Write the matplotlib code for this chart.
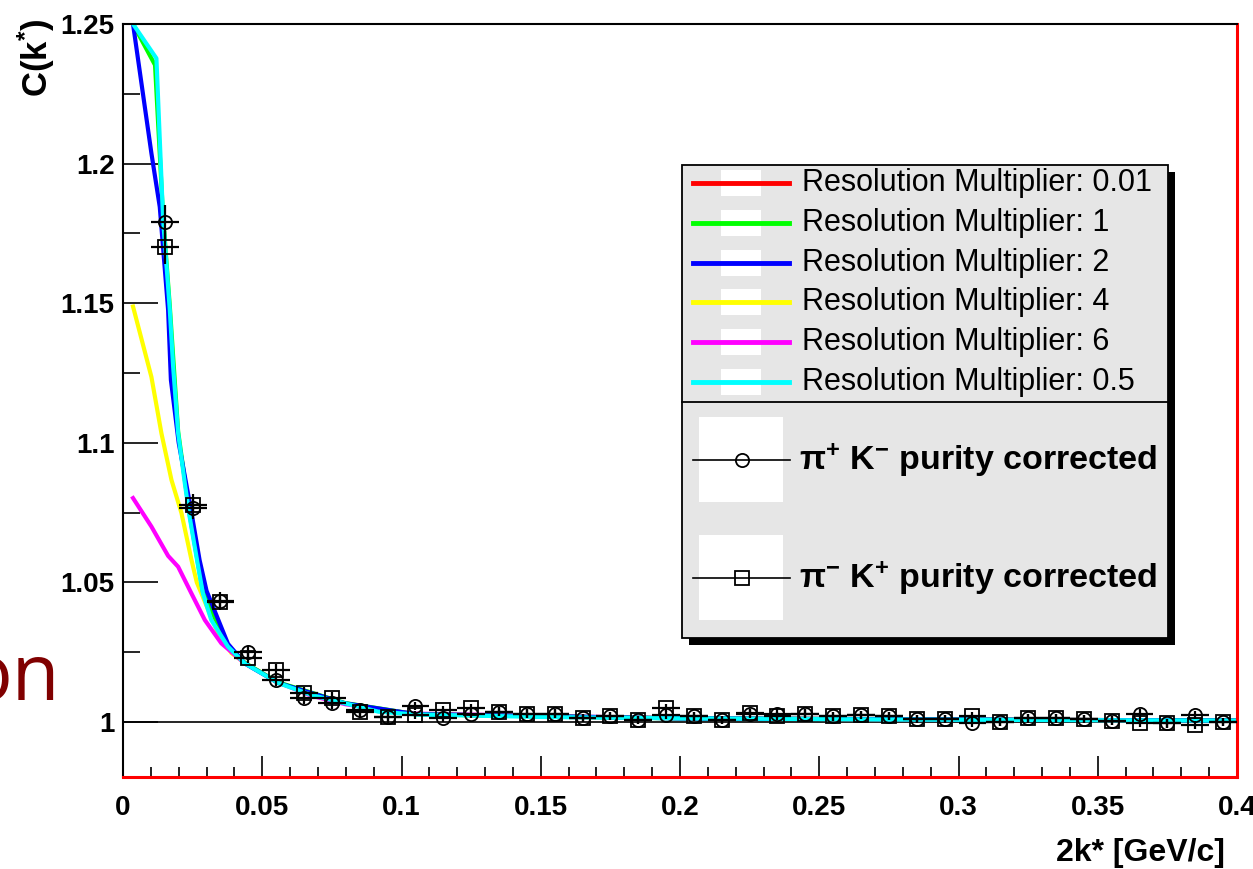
import matplotlib
matplotlib.use("Agg")
import matplotlib.pyplot as plt
from matplotlib.patches import Rectangle
from matplotlib.lines import Line2D
from matplotlib.ticker import MultipleLocator, FuncFormatter
import numpy as np

plt.rcParams['font.family'] = ['Liberation Sans', 'DejaVu Sans']
plt.rcParams['mathtext.fontset'] = 'custom'
plt.rcParams['mathtext.rm'] = 'Liberation Sans:bold'
plt.rcParams['mathtext.it'] = 'Liberation Sans:bold'
plt.rcParams['mathtext.bf'] = 'Liberation Sans:bold'
plt.rcParams['mathtext.default'] = 'regular'

# ---- data points (bin centres, 0.01 wide bins) ----
k_bins = np.arange(0.015, 0.4, 0.01)
c_pipKm = [1.179, 1.0766, 1.0434, 1.0252, 1.015, 1.0086, 1.0068, 1.0043, 1.0017, 1.0057,
           1.0015, 1.003, 1.0037, 1.003, 1.003, 1.0015, 1.0022, 1.0007, 1.0025, 1.002,
           1.0007, 1.003, 1.003, 1.003, 1.002, 1.0025, 1.0022, 1.001, 1.001, 0.9998,
           1.0, 1.0013, 1.0013, 1.001, 1.0005, 1.003, 0.9995, 1.0025, 1.0]
c_pimKp = [1.170, 1.0777, 1.043, 1.023, 1.0186, 1.0104, 1.0086, 1.0035, 1.0017, 1.0025,
           1.0043, 1.005, 1.0037, 1.003, 1.003, 1.0015, 1.0022, 1.0007, 1.005, 1.002,
           1.0007, 1.0032, 1.0022, 1.003, 1.002, 1.0025, 1.0022, 1.001, 1.001, 1.002,
           1.0, 1.0013, 1.0013, 1.001, 1.0005, 0.9998, 0.9995, 0.999, 1.0]
c_err = [0.006, 0.004, 0.003] + [0.002] * 6 + [0.0015] * 30

# ---- model curves, one per resolution multiplier ----
x_m1 = [0.0036, 0.0115, 0.0144, 0.0168, 0.0198, 0.0239, 0.0287, 0.0377, 0.0437, 0.0557, 0.0797, 0.105, 0.2, 0.4]
c_m1 = [1.25, 1.2353, 1.181, 1.149, 1.104, 1.0745, 1.0465, 1.0272, 1.0212, 1.0142, 1.0068, 1.0028, 1.0013, 1.0005]

x_m2 = [0.0036, 0.0102, 0.0132, 0.0162, 0.0172, 0.0200, 0.0245, 0.0275, 0.0300, 0.0377, 0.0437, 0.0557, 0.0797, 0.105, 0.2, 0.4]
c_m2 = [1.25, 1.2037, 1.1845, 1.1476, 1.1225, 1.1, 1.0755, 1.058, 1.047, 1.028, 1.021, 1.014, 1.0067, 1.0028, 1.0013, 1.0005]

x_m4 = [0.0036, 0.0102, 0.0138, 0.0174, 0.021, 0.0246, 0.0265, 0.0341, 0.0389, 0.0437, 0.0557, 0.0797, 0.105, 0.2, 0.4]
c_m4 = [1.1488, 1.1236, 1.1034, 1.0867, 1.0748, 1.058, 1.050, 1.0318, 1.0247, 1.0212, 1.0141, 1.0067, 1.0027, 1.0013, 1.0005]

x_m6 = [0.0036, 0.0102, 0.0162, 0.0198, 0.0246, 0.0294, 0.0353, 0.0437, 0.0557, 0.0677, 0.0797, 0.0917, 0.105, 0.2, 0.4]
c_m6 = [1.0802, 1.07, 1.0595, 1.0556, 1.046, 1.0365, 1.0282, 1.021, 1.0142, 1.0094, 1.0064, 1.0045, 1.003, 1.0013, 1.0005]

x_m05 = [0.0036, 0.012, 0.0144, 0.0168, 0.018, 0.0198, 0.0222, 0.0239, 0.027, 0.0287, 0.0317, 0.0377,
         0.0437, 0.0557, 0.0676, 0.0797, 0.0917, 0.105, 0.15, 0.2, 0.3, 0.4]
c_m05 = [1.25, 1.2377, 1.180, 1.1476, 1.1273, 1.1034, 1.0855, 1.0736, 1.0556, 1.046, 1.0365, 1.027,
         1.021, 1.014, 1.0097, 1.0067, 1.0037, 1.0027, 1.0018, 1.0013, 1.0008, 1.0005]

res_labels = ["Resolution Multiplier: 0.01", "Resolution Multiplier: 1", "Resolution Multiplier: 2",
              "Resolution Multiplier: 4", "Resolution Multiplier: 6", "Resolution Multiplier: 0.5"]
res_colors = ["#ff0000", "#00ff00", "#0000ff", "#ffff00", "#ff00ff", "#00ffff"]

W, H = 1253, 869
fig = plt.figure(figsize=(W / 100, H / 100), dpi=100)
fig.patch.set_facecolor("white")

def fx(px):
    return px / W

def fy(py):
    return 1 - py / H

ax = fig.add_axes([fx(123), fy(777), fx(1237) - fx(123), fy(24) - fy(777)])
ax.set_xlim(0, 0.4)
ax.set_ylim(0.9803, 1.25)

ax.axhline(1.0, color="black", lw=1.2, zorder=1)

for xs, ys, col in [(x_m4, c_m4, res_colors[3]), (x_m6, c_m6, res_colors[4]),
                    (x_m1, c_m1, res_colors[1]), (x_m2, c_m2, res_colors[2]),
                    (x_m05, c_m05, res_colors[5])]:
    ax.plot(xs, ys, color=col, lw=3, zorder=2, clip_on=True)

ax.errorbar(k_bins, c_pipKm, xerr=0.005, yerr=c_err, fmt="o", ms=9.5, mfc="none", mec="black",
            mew=1.3, ecolor="black", elinewidth=1.6, capsize=0, zorder=3)
ax.errorbar(k_bins, c_pimKp, xerr=0.005, yerr=c_err, fmt="s", ms=9.5, mfc="none", mec="black",
            mew=1.3, ecolor="black", elinewidth=1.6, capsize=0, zorder=3)

# ROOT-like frame: red 0.01 curve lies on the bottom and right edges
for s in ["top", "left"]:
    ax.spines[s].set_color("black")
    ax.spines[s].set_linewidth(1.5)
for s in ["bottom", "right"]:
    ax.spines[s].set_color("#ff0000")
    ax.spines[s].set_linewidth(2.2)

ax.xaxis.set_major_locator(MultipleLocator(0.05))
ax.xaxis.set_minor_locator(MultipleLocator(0.01))
ax.yaxis.set_major_locator(MultipleLocator(0.05))
ax.yaxis.set_minor_locator(MultipleLocator(0.025))
fmt = FuncFormatter(lambda v, p: "%g" % round(v, 4))
ax.xaxis.set_major_formatter(fmt)
ax.yaxis.set_major_formatter(fmt)
ax.tick_params(axis="both", which="both", direction="in", width=1.2, color="black",
               labelsize=20)
ax.tick_params(axis="x", which="major", length=15, pad=13)
ax.tick_params(axis="x", which="minor", length=7)
ax.tick_params(axis="y", which="major", length=25, pad=6)
ax.tick_params(axis="y", which="minor", length=12)
ax.tick_params(top=False, right=False)
for lab in ax.get_xticklabels() + ax.get_yticklabels():
    lab.set_fontweight("bold")

fig.text(fx(1225), fy(853), "2k* [GeV/c]", ha="right", va="center", fontsize=23, fontweight="bold")
fig.text(fx(36), fy(18), r"C(k$^{*}$)", rotation=90, ha="center", va="top", fontsize=25,
         fontweight="bold")

# slide text fragment at the left edge
fig.text(fx(60), fy(700), "on", ha="right", va="baseline", fontsize=56, color="#800000",
         family=["Open Sans", "DejaVu Sans"])

# ---- legend box (ROOT style with shadow) ----
def frect(x0, y0, x1, y1, **kw):
    fig.add_artist(Rectangle((fx(x0), fy(y1)), fx(x1) - fx(x0), fy(y0) - fy(y1),
                             transform=fig.transFigure, **kw))

frect(689, 172, 1175, 645, facecolor="black", edgecolor="none", zorder=9)
frect(682, 165, 1168, 638, facecolor="#e6e6e6", edgecolor="black", lw=1.3, zorder=10)
fig.add_artist(Line2D([fx(682), fx(1168)], [fy(402), fy(402)], color="black", lw=1.3,
                      transform=fig.transFigure, zorder=11))

row_y = [183, 223, 263, 302, 342, 382]
for yy, lab, col in zip(row_y, res_labels, res_colors):
    frect(721, yy - 13, 761, yy + 13, facecolor="white", edgecolor="none", zorder=11)
    fig.add_artist(Line2D([fx(693), fx(789)], [fy(yy), fy(yy)], color=col, lw=3.5,
                          transform=fig.transFigure, zorder=12))
    fig.text(fx(802), fy(yy), lab, ha="left", va="center", fontsize=22, zorder=12)

data_rows = [(460, "o", r"π$^{+}$ K$^{-}$ purity corrected"), (578, "s", r"π$^{-}$ K$^{+}$ purity corrected")]
for yy, mk, lab in data_rows:
    frect(699, yy - 43, 783, yy + 42, facecolor="white", edgecolor="none", zorder=11)
    fig.add_artist(Line2D([fx(693), fx(790)], [fy(yy), fy(yy)], color="black", lw=1.2,
                          transform=fig.transFigure, zorder=12))
    fig.add_artist(Line2D([fx(742)], [fy(yy)], marker=mk, ms=9.5, mfc="none", mec="black", mew=1.3,
                          transform=fig.transFigure, zorder=13))
    fig.text(fx(799), fy(yy), lab, ha="left", va="center", fontsize=24.5, fontweight="bold",
             zorder=12)

fig.savefig("out.png", dpi=100)
